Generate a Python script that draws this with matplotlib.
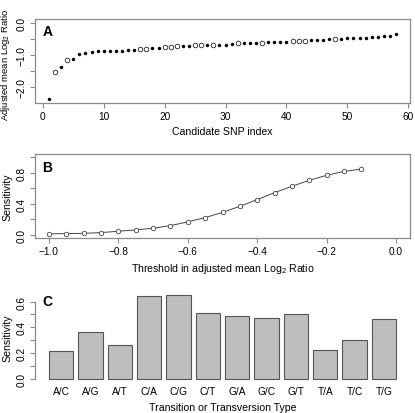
import numpy as np
import matplotlib
matplotlib.use("Agg")
import matplotlib.pyplot as plt

plt.rcParams['font.family'] = ['Liberation Sans', 'DejaVu Sans']
plt.rcParams['mathtext.fontset'] = 'custom'
plt.rcParams['mathtext.rm'] = 'Liberation Sans'
plt.rcParams['mathtext.it'] = 'Liberation Sans:italic'

# Panel A: adjusted mean log2 ratio per candidate SNP (sorted)
snp_ratio = [-2.36, -1.53, -1.38, -1.16, -1.13, -0.96, -0.93, -0.91, -0.88, -0.88,
             -0.88, -0.88, -0.87, -0.85, -0.84, -0.82, -0.80, -0.79, -0.77, -0.76,
             -0.76, -0.73, -0.72, -0.71, -0.70, -0.70, -0.69, -0.69, -0.68, -0.67,
             -0.66, -0.62, -0.62, -0.61, -0.61, -0.61, -0.59, -0.59, -0.58, -0.58,
             -0.56, -0.55, -0.55, -0.53, -0.53, -0.52, -0.51, -0.50, -0.49, -0.48,
             -0.47, -0.46, -0.46, -0.44, -0.43, -0.41, -0.40, -0.33]
snp_open = [2, 4, 16, 17, 20, 21, 22, 25, 26, 28, 32, 36, 41, 42, 43, 48]

# Panel B: sensitivity vs threshold
thresholds = [-1.0, -0.95, -0.9, -0.85, -0.8, -0.75, -0.7, -0.65, -0.6, -0.55,
              -0.5, -0.45, -0.4, -0.35, -0.3, -0.25, -0.2, -0.15, -0.1]
sensitivity = [0.013, 0.017, 0.02, 0.03, 0.047, 0.065, 0.086, 0.12, 0.168, 0.224,
               0.29, 0.37, 0.456, 0.546, 0.628, 0.705, 0.77, 0.82, 0.85]

# Panel C: sensitivity by substitution type
sub_types = ['A/C', 'A/G', 'A/T', 'C/A', 'C/G', 'C/T', 'G/A', 'G/C', 'G/T', 'T/A', 'T/C', 'T/G']
sub_sens = [0.214, 0.366, 0.264, 0.64, 0.648, 0.51, 0.488, 0.475, 0.50, 0.225, 0.30, 0.465]

W, H = 415, 414
fig = plt.figure(figsize=(W / 100, H / 100), dpi=100)

def box(l, t, r, b):
    return [l / W, 1 - b / H, (r - l) / W, (b - t) / H]

spine_col = '#8a8a8a'
fs = 7.3
lfs = 7.6

def style(ax):
    for s in ax.spines.values():
        s.set_color(spine_col)
        s.set_linewidth(0.9)
    ax.tick_params(length=3.6, width=0.8, color=spine_col, labelsize=fs, pad=2.5)
    ax.tick_params(axis='y', labelrotation=90)
    for lab in ax.get_yticklabels():
        lab.set_va('center')

# ---- A
axA = fig.add_axes(box(35, 19.5, 410, 104))
idx = np.arange(1, len(snp_ratio) + 1)
vals = np.array(snp_ratio)
is_open = np.isin(idx, snp_open)
axA.plot(idx[~is_open], vals[~is_open], 'o', ms=2.2, color='black', mec='black', mew=0.3)
axA.plot(idx[is_open], vals[is_open], 'o', ms=3.3, mfc='white', mec='#222222', mew=0.6)
axA.set_xlim(-1.28, 60.28)
axA.set_ylim(-2.49, 0.14)
axA.set_xticks([0, 10, 20, 30, 40, 50, 60])
axA.set_yticks([-2.0, -1.5, -1.0, -0.5, 0.0])
axA.set_yticklabels(['\u22122.0', '', '\u22121.0', '', '0.0'])
style(axA)
axA.set_xlabel('Candidate SNP index', fontsize=lfs, labelpad=3)
axA.set_ylabel('Adjusted mean Log$_2$ Ratio', fontsize=6.8)
axA.yaxis.set_label_coords(-0.062, 0.46)
axA.text(0.02, 0.93, 'A', transform=axA.transAxes, fontsize=10, fontweight='bold', va='top')

# ---- B
axB = fig.add_axes(box(35, 155, 410, 239))
axB.plot(thresholds, sensitivity, '-o', color='#444444', lw=0.7, ms=3.2,
         mfc='white', mec='#444444', mew=0.6)
axB.set_xlim(-1.04, 0.04)
axB.set_ylim(-0.04, 1.045)
axB.set_xticks([-1.0, -0.8, -0.6, -0.4, -0.2, 0.0])
axB.set_xticklabels(['\u22121.0', '\u22120.8', '\u22120.6', '\u22120.4', '\u22120.2', '0.0'])
axB.set_yticks([0.0, 0.2, 0.4, 0.6, 0.8, 1.0])
axB.set_yticklabels(['0.0', '', '0.4', '', '0.8', ''])
style(axB)
axB.set_xlabel('Threshold in adjusted mean Log$_2$ Ratio', fontsize=lfs, labelpad=3)
axB.set_ylabel('Sensitivity', fontsize=lfs, labelpad=3)
axB.text(0.02, 0.93, 'B', transform=axB.transAxes, fontsize=10, fontweight='bold', va='top')

# ---- C
axC = fig.add_axes(box(35, 293, 410, 383))
pos = 0.7 + 1.2 * np.arange(len(sub_types))
axC.bar(pos, sub_sens, width=1.0, color='#bebebe', edgecolor='#555555', linewidth=0.8)
axC.set_xlim(-0.368, 14.968)
axC.set_ylim(-0.026, 0.674)
axC.set_xticks(pos)
axC.set_xticklabels(sub_types, fontsize=fs - 0.3)
axC.set_yticks([0.0, 0.1, 0.2, 0.3, 0.4, 0.5, 0.6])
axC.set_yticklabels(['0.0', '', '0.2', '', '0.4', '', '0.6'])
style(axC)
axC.tick_params(axis='x', length=0, pad=3)
for s in ['top', 'right', 'bottom']:
    axC.spines[s].set_visible(False)
axC.spines['left'].set_bounds(0, 0.6)
axC.set_xlabel('Transition or Transversion Type', fontsize=lfs, labelpad=4)
axC.set_ylabel('Sensitivity', fontsize=lfs, labelpad=3)
axC.text(0.02, 0.98, 'C', transform=axC.transAxes, fontsize=10, fontweight='bold', va='top')

fig.savefig('out.png', dpi=100)
